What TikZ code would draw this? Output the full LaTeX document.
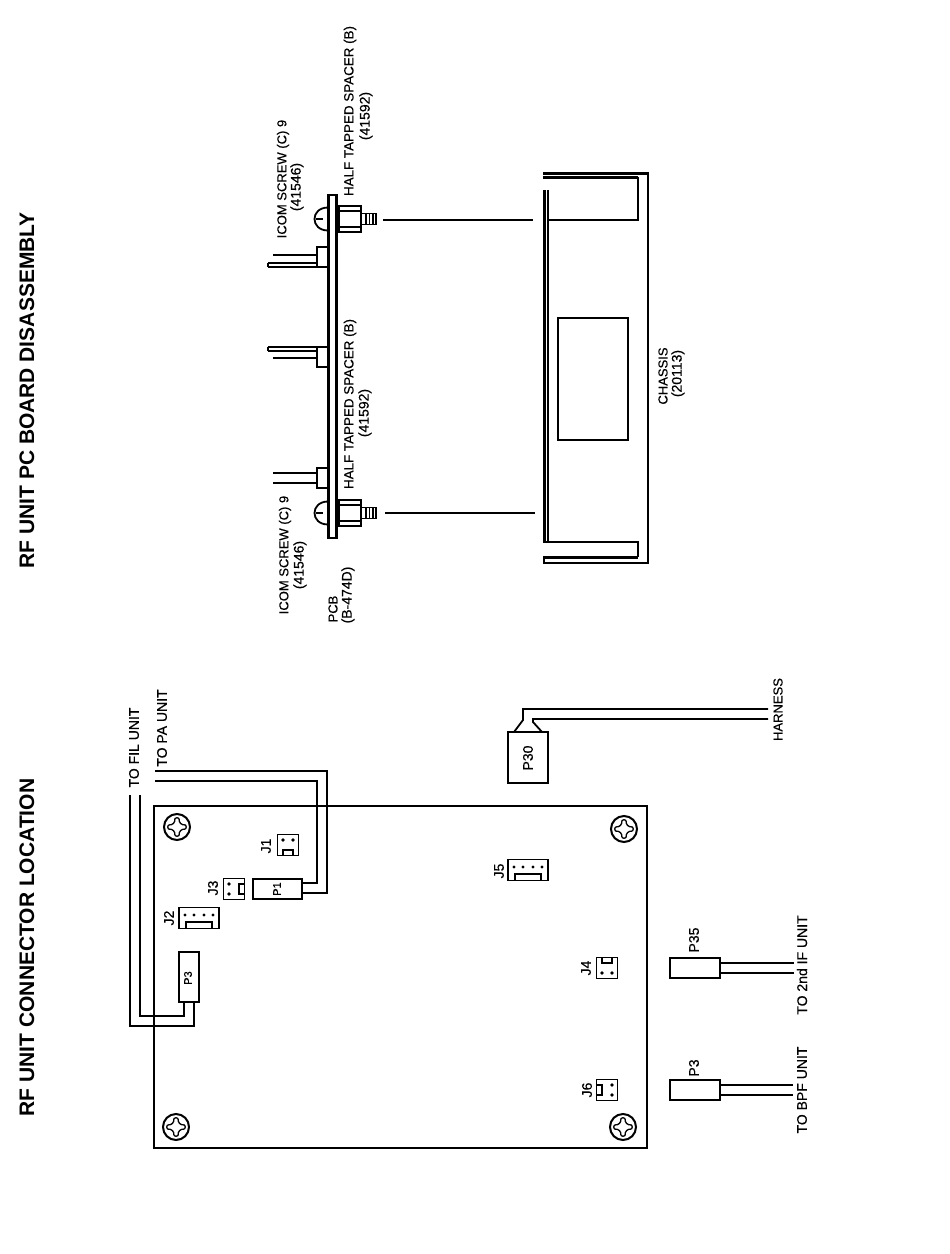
\documentclass[tikz,border=0pt]{standalone}
\usepackage{fontspec}
\setmainfont{Liberation Sans}
\newfontfamily\heavy[FakeBold=0.35]{Liberation Sans}
\newcommand{\phscrew}[3]{%
  \node[circle,minimum size=26pt,draw,line width=2pt,inner sep=0pt] (#1) at (#2,#3) {};
  \foreach \r in {0,90,180,270}{
    \draw[line width=1.3pt,line join=round,shift={(#2,#3)},rotate=\r]
      (2,-8.5) .. controls (2,-4) and (4,-2) .. (8.5,-2)
      .. controls (9.6,-1) and (9.6,1) .. (8.5,2);
  }
}
\newcommand{\twopin}[4]{%
  \node[jackbox,minimum width=21pt,minimum height=21pt] (#1) at (#2,#3) {};
  \begin{scope}[shift={(#2,#3)},rotate=#4]
    \fill (-5,-5) circle[radius=1.9] (5,-5) circle[radius=1.9];
    \draw[line width=1.3pt] (-5,10) -- (-5,5) -- (5,5) -- (5,10);
  \end{scope}
}
\newcommand{\fourpin}[3]{%
  \node[jackbox,minimum width=40pt,minimum height=21pt] (#1) at (#2,#3) {};
  \begin{scope}[shift={(#2,#3)}]
    \foreach \q in {-14,-5,5,14} \fill (\q,-3) circle[radius=1.7];
    \draw[line width=1.3pt] (-13,10) -- (-13,4) -- (13,4) -- (13,10);
  \end{scope}
}
\tikzset{
  wire/.style={line width=1.8pt,line join=miter},
  frame/.style={line width=2.2pt,line join=miter},
  thickfr/.style={line width=3pt,line join=miter},
  lbl/.style={rotate=90,inner sep=0pt,font=\heavy\fontsize{14}{14}\selectfont},
  lblb/.style={rotate=90,inner sep=0pt,font=\heavy\fontsize{13.4}{14}\selectfont},
  lblc/.style={rotate=90,inner sep=0pt,font=\heavy\fontsize{13}{14}\selectfont},
  tiny/.style={rotate=90,inner sep=0pt,font=\heavy\fontsize{11}{12}\selectfont},
  title/.style={rotate=90,inner sep=0pt,font=\fontsize{21}{21}\selectfont\bfseries},
  jackbox/.style={draw,line width=1.8pt,inner sep=0pt,fill=white},
  plug/.style={draw,line width=1.8pt,inner sep=0pt,fill=white},
}
\begin{document}
\begin{tikzpicture}[x=1pt,y=-1pt]
\useasboundingbox (0,0) rectangle (950,1254);
\fill[white] (0,0) rectangle (950,1254);

% titles
\node[title] (t1) at (27,947.5) {RF UNIT CONNECTOR LOCATION};
\node[title] (t2) at (27,390.5) {RF UNIT PC BOARD DISASSEMBLY};

% board
\node[draw,frame,minimum width=493pt,minimum height=342pt,inner sep=0pt] (board) at (400.5,977) {};
\phscrew{s1}{177}{827}
\phscrew{s2}{176}{1127}
\phscrew{s3}{624}{829}
\phscrew{s4}{623}{1127}

% jacks
\twopin{J1}{288}{845}{0}
\twopin{J3}{234}{889}{90}
\twopin{J4}{607}{968}{180}
\twopin{J6}{607}{1090}{-90}
\fourpin{J2}{199}{918}
\fourpin{J5}{528}{870}
\node[lbl] (lJ1) at (266,846) {J1};
\node[lbl] (lJ3) at (213,888) {J3};
\node[lbl] (lJ2) at (169,918) {J2};
\node[lbl] (lJ5) at (499,871) {J5};
\node[lbl] (lJ4) at (586,968) {J4};
\node[lbl] (lJ6) at (587,1090) {J6};

% plugs on board
\node[plug,minimum width=49pt,minimum height=20pt] (P1) at (277.5,889) {};
\node[tiny] (lP1) at (277,889) {P1};
\node[plug,minimum width=20pt,minimum height=50pt] (P3a) at (189,977) {};
\node[tiny] (lP3a) at (188,978) {P3};

% free ends
\coordinate (filA) at (130,795);
\coordinate (filB) at (140,795);
\coordinate (paA) at (155,771);
\coordinate (paB) at (155,781);
\draw[wire] (filA) |- (194,1026) -- (194,1002);
\draw[wire] (filB) |- (184,1016) -- (184,1002);
\draw[wire] (paA) -| (327,893) -- (302,893);
\draw[wire] (paB) -| (317,883) -- (302,883);
\node[lbl] (lfil) at (134,747.5) {TO FIL UNIT};
\node[lbl] (lpa) at (162,728) {TO PA UNIT};

% harness
\node[plug,minimum width=40pt,minimum height=51pt] (P30) at (528,757.5) {};
\node[lbl] (lP30) at (528,758) {P30};
\coordinate (hA) at (768,709);
\coordinate (hB) at (768,719);
\draw[wire] (hA) -- (523,709) -- (523,720) -- (514,732);
\draw[wire] (hB) -- (533,719) -- (533,722) -- (542,732);
\node[lblc] (lh) at (778,709.5) {HARNESS};

% P35
\node[plug,minimum width=50pt,minimum height=20pt] (P35) at (695,968) {};
\node[lbl] (lP35) at (694,940) {P35};
\coordinate (p35A) at (794,963);
\coordinate (p35B) at (794,973);
\draw[wire] (P35.east |- p35A) -- (p35A);
\draw[wire] (P35.east |- p35B) -- (p35B);
\node[lbl] (l2nd) at (802,965) {TO 2nd IF UNIT};

% P3 lower
\node[plug,minimum width=50pt,minimum height=20pt] (P3b) at (695,1090) {};
\node[lbl] (lP3b) at (694,1068) {P3};
\coordinate (bpfA) at (793,1085);
\coordinate (bpfB) at (793,1095);
\draw[wire] (P3b.east |- bpfA) -- (bpfA);
\draw[wire] (P3b.east |- bpfB) -- (bpfB);
\node[lbl] (lbpf) at (802,1090) {TO BPF UNIT};

% PCB side view
\node[draw,line width=2.4pt,inner sep=0pt,minimum width=8pt,minimum height=343pt] (pcb) at (332.5,366.5) {};
% screw heads
\foreach \c in {219,513}{
  \draw[line width=1.8pt] (328,\c-11.5) .. controls (310,\c-11.5) and (310,\c+11.5) .. (328,\c+11.5);
  \draw[line width=1.6pt] (316,\c) -- (323,\c);
  \draw[line width=1.8pt] (339,\c-13) rectangle (361,\c+13);
  \draw[line width=1.2pt] (339,\c-8) -- (361,\c-8) (339,\c+8) -- (361,\c+8);
  \fill[white] (361,\c-5.5) rectangle (376,\c+5.5);
  \draw[line width=1.4pt] (361,\c-5.5) rectangle (376,\c+5.5);
  \draw[line width=1.4pt] (366,\c-5.5) -- (366,\c+5.5) (369.5,\c-5.5) -- (369.5,\c+5.5) (373,\c-5.5) -- (373,\c+5.5);
  \draw[line width=2pt] (336,\c-13) -- (339,\c-13) (336,\c+13) -- (339,\c+13);
}
% side-view plugs
\node[plug,minimum width=11pt,minimum height=20pt] (c1) at (322.5,257) {};
\node[plug,minimum width=11pt,minimum height=20pt] (c2) at (322.5,357) {};
\node[plug,minimum width=11pt,minimum height=20pt] (c3) at (322.5,478) {};
\coordinate (c1a) at (273,255);
\coordinate (c1b) at (268,263);
\coordinate (c1c) at (268,267);
\coordinate (c2a) at (268,347);
\coordinate (c2b) at (268,351);
\coordinate (c2c) at (273,358);
\coordinate (c3a) at (273,473);
\coordinate (c3b) at (273,483);
\draw[wire] (c1a) -- (c1.west |- c1a);
\draw[wire] (c1c) -- (c1.west |- c1c) (c1b) -- (c1.west |- c1b) (c1b) -- (c1c);
\draw[wire] (c2a) -- (c2.west |- c2a) (c2b) -- (c2.west |- c2b) (c2a) -- (c2b);
\draw[wire] (c2c) -- (c2.west |- c2c);
\draw[wire] (c3a) -- (c3.west |- c3a);
\draw[wire] (c3b) -- (c3.west |- c3b);

% labels
\node[lblb] (a1) at (350,111) {HALF TAPPED SPACER (B)};
\node[lbl] (a2) at (366,116) {(41592)};
\node[lblc] (a3) at (283,179) {ICOM SCREW (C) 9};
\node[lbl] (a4) at (297,187) {(41546)};
\node[lblb] (b1) at (350,404) {HALF TAPPED SPACER (B)};
\node[lbl] (b2) at (365,413) {(41592)};
\node[lblc] (b3) at (285,555) {ICOM SCREW (C) 9};
\node[lbl] (b4) at (300,565) {(41546)};
\node[lblc] (b5) at (333,609) {PCB};
\node[lbl] (b6) at (348,595) {(B-474D)};

% chassis
\draw[line width=3pt] (543,173) -- (648,173);
\draw[thickfr] (543,177) -- (638,177);
\draw[line width=2.4pt,line join=miter] (648,172) -- (648,563) -- (543,563);
\draw[line width=2pt,line join=miter] (638,177) -- (638,220) -- (548,220);
\draw[line width=3.2pt] (544.5,190) -- (544.5,543);
\draw[line width=1.6pt] (548,190) -- (548,542);
\draw[line width=2pt,line join=miter] (543,542) -- (638,542) -- (638,557);
\draw[thickfr] (543,557) -- (638,557);
\draw[line width=2pt] (544,556) -- (544,563);
\node[draw,line width=2pt,inner sep=0pt,minimum width=70pt,minimum height=122pt] (win) at (593,379) {};
\node[lblc] (ch1) at (663,376) {CHASSIS};
\node[lbl] (ch2) at (678,373.5) {(20113)};

% leaders
\coordinate (la1) at (383,220);
\coordinate (la2) at (533,220);
\coordinate (lb1) at (385,513);
\coordinate (lb2) at (535,513);
\draw[line width=1.5pt] (la1) -- (la2);
\draw[line width=1.5pt] (lb1) -- (lb2);
\end{tikzpicture}
\end{document}
